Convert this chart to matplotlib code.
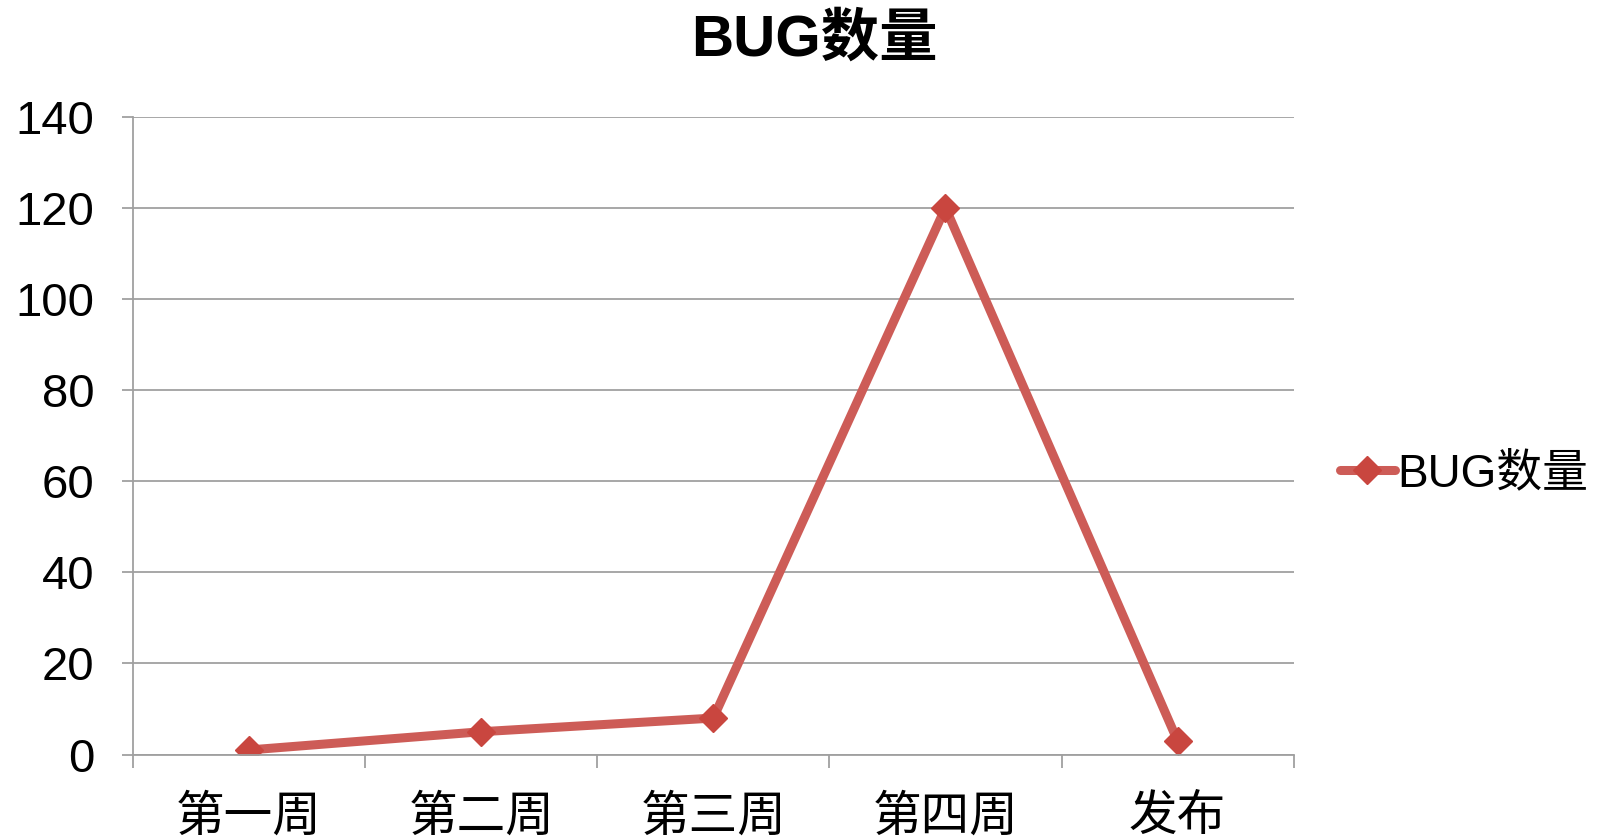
import numpy as np
import matplotlib.pyplot as plt
from matplotlib.ticker import FixedLocator, NullFormatter

plt.rcParams['font.family'] = ['Liberation Sans', 'Noto Sans CJK SC', 'DejaVu Sans']

# Data
weeks = ['第一周', '第二周', '第三周', '第四周', '发布']
bugs = [1, 5, 8, 120, 3]
series_name = 'BUG数量'

fig = plt.figure(figsize=(16.03, 8.39), dpi=100)
ax = fig.add_axes([0.083, 0.1007, 0.724, 0.7603])

x = np.arange(len(weeks))
ax.plot(x, bugs, color='#CD5C57', lw=6.5, marker='D', ms=14,
        mfc='#C9463F', mec='#C9463F', label=series_name, solid_capstyle='round')

ax.set_xlim(-0.5, len(weeks) - 0.5)
ax.set_ylim(0, 140)
ax.set_yticks(np.arange(0, 141, 20))
ax.yaxis.grid(True, color='#A0A0A0', lw=1.3)
ax.set_axisbelow(True)

# category boundaries as major ticks, labels on minor ticks
ax.xaxis.set_major_locator(FixedLocator(np.arange(-0.5, len(weeks), 1.0)))
ax.xaxis.set_major_formatter(NullFormatter())
ax.xaxis.set_minor_locator(FixedLocator(x))
ax.set_xticklabels(weeks, minor=True)
ax.tick_params(axis='x', which='major', length=9, width=1.3, color='#A0A0A0')
ax.tick_params(axis='x', which='minor', length=0, pad=29, labelsize=35)
ax.tick_params(axis='y', length=8, width=1.3, color='#A0A0A0', labelsize=34, pad=20)

for s in ['top', 'right']:
    ax.spines[s].set_visible(False)
for s in ['left', 'bottom']:
    ax.spines[s].set_color('#A0A0A0')
    ax.spines[s].set_linewidth(1.3)

fig.text(0.508, 0.952, series_name, ha='center', va='center', fontsize=42, fontweight='bold')

ax.legend(loc='center left', bbox_to_anchor=(1.02, 0.44), frameon=False,
          fontsize=33, handlelength=1.2, handletextpad=0.05, borderpad=0)

fig.savefig('out.png', dpi=100)
